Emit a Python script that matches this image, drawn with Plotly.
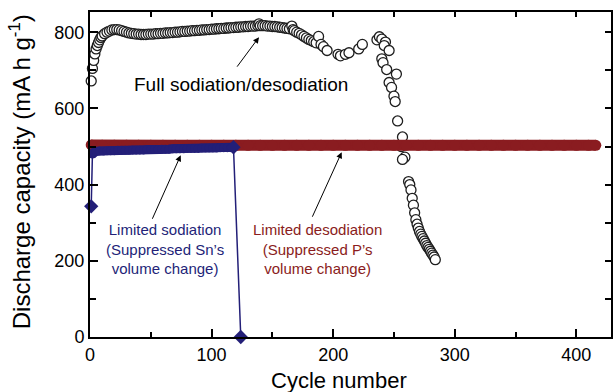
import plotly.graph_objects as go

# ---- data ----
full_cycles = [1, 2, 3, 4, 5, 6, 7, 8, 9, 10, 12, 14, 16, 18, 20, 22, 24, 26, 28, 30,
               32, 34, 36, 38, 40, 42, 44, 46, 48, 50, 52, 54, 56, 58, 60, 62, 64, 66, 68, 70,
               72, 74, 76, 78, 80, 82, 84, 86, 88, 90, 92, 94, 96, 98, 100, 102, 104, 106, 108, 110,
               112, 114, 116, 118, 120, 122, 124, 126, 128, 130, 132, 134, 136, 138, 139, 140, 142, 144, 146, 148,
               150, 152, 154, 156, 158, 160, 162, 164, 166, 167, 168, 170, 172, 174, 176, 178, 180, 182, 184, 186,
               188, 190, 192, 195, 204, 206, 210, 213, 221, 224, 236, 238, 240, 243, 242, 246, 240, 241, 244, 252,
               246, 248, 250, 251, 253, 257, 256, 259, 257, 262, 263, 264, 265, 266, 267, 268, 269, 270, 271, 272,
               273, 274, 275, 276, 277, 278, 279, 280, 281, 282, 283, 284]
full_capacity = [672, 705, 726, 743, 756, 765, 773, 780, 786, 790, 796, 800, 803, 806, 807, 807, 806, 804, 802, 800,
                 798, 797, 796, 795, 795, 794, 794, 794, 795, 795, 795, 796, 796, 797, 797, 798, 798, 799, 799, 800,
                 800, 801, 802, 802, 803, 803, 804, 804, 805, 805, 806, 806, 807, 807, 808, 808, 809, 809, 810, 810,
                 811, 811, 812, 812, 813, 813, 814, 814, 815, 815, 816, 816, 816, 817, 822, 817, 817, 817, 816, 816,
                 815, 815, 814, 813, 812, 811, 810, 809, 816, 807, 804, 800, 797, 793, 789, 785, 781, 778, 775, 772,
                 789, 768, 762, 752, 742, 738, 742, 746, 756, 768, 780, 788, 782, 774, 765, 752, 730, 720, 702, 690,
                 668, 655, 632, 618, 567, 525, 500, 472, 466, 408, 400, 386, 364, 346, 326, 308, 296, 286, 277, 270,
                 264, 258, 252, 246, 240, 235, 230, 225, 220, 215, 210, 203]

desod_cycles = [1, 10, 20, 30, 40, 50, 60, 70, 80, 90, 100, 110, 120, 130, 140, 150, 160, 170, 180, 190,
                200, 210, 220, 230, 240, 250, 260, 270, 280, 290, 300, 310, 320, 330, 340, 350, 360, 370, 380, 390,
                400, 410, 416]
desod_capacity = [504, 503, 503, 503, 503, 503, 503, 503, 503, 503, 503, 503, 503, 503, 503, 503, 503, 503, 503, 503,
                  503, 503, 503, 503, 503, 503, 503, 503, 503, 503, 503, 503, 503, 503, 503, 503, 503, 503, 503, 503,
                  503, 503, 503]

sod_cycles = [1, 2, 3, 5, 8, 11, 14, 17, 20, 23, 26, 29, 32, 35, 38, 41, 44, 47, 50, 53,
              56, 59, 62, 65, 68, 71, 74, 77, 80, 83, 86, 89, 92, 95, 98, 101, 104, 107, 110, 113,
              116, 118, 124]
sod_capacity = [343, 480, 485, 487, 488, 488, 489, 489, 489, 490, 490, 490, 490, 491, 491, 491, 491, 492, 492, 492,
                492, 493, 493, 493, 494, 494, 494, 494, 495, 495, 495, 495, 496, 496, 496, 496, 496, 497, 497, 497,
                497, 498, 0]

x_ticks = [0, 100, 200, 300, 400]
y_ticks = [0, 200, 400, 600, 800]

NAVY = "#231f78"
DRED = "#8a1c20"
FONT = "Liberation Sans, Arial, sans-serif"

fig = go.Figure()

fig.add_trace(go.Scatter(
    x=full_cycles, y=full_capacity, mode="markers", cliponaxis=False,
    marker=dict(symbol="circle", size=10, color="white", opacity=1,
                line=dict(color="#1e1e1e", width=1.3)),
    showlegend=False))

fig.add_trace(go.Scatter(
    x=desod_cycles, y=desod_capacity, mode="lines+markers", cliponaxis=False,
    line=dict(color=DRED, width=11),
    marker=dict(symbol="circle", size=11, color=DRED, opacity=1, line=dict(width=0)),
    showlegend=False))

# Limited sodiation: thin connecting line through all points
fig.add_trace(go.Scatter(
    x=sod_cycles, y=sod_capacity, mode="lines", cliponaxis=False,
    line=dict(color=NAVY, width=1.5), showlegend=False))
# the plateau band (same data, cycles 2..118)
fig.add_trace(go.Scatter(
    x=sod_cycles[1:-1], y=sod_capacity[1:-1], mode="lines+markers", cliponaxis=False,
    line=dict(color=NAVY, width=9),
    marker=dict(symbol="circle", size=9, color=NAVY, opacity=1, line=dict(width=0)),
    showlegend=False))
# diamond end markers
end_idx = [0, len(sod_cycles) - 2, len(sod_cycles) - 1]
fig.add_trace(go.Scatter(
    x=[sod_cycles[i] for i in end_idx], y=[sod_capacity[i] for i in end_idx], mode="markers", cliponaxis=False,
    marker=dict(symbol="diamond", size=11, color=NAVY, opacity=1, line=dict(width=0)),
    showlegend=False))

# invisible trace to anchor the mirrored tick axes
fig.add_trace(go.Scatter(x=[None], y=[None], xaxis="x2", yaxis="y2", showlegend=False, hoverinfo="skip"))

XR = [0, 428.5]
YR = [0, 853]

fig.update_layout(
    width=614, height=392,
    margin=dict(l=90, r=1, t=12, b=55),
    paper_bgcolor="white", plot_bgcolor="white",
    font=dict(family=FONT, color="black"),
    xaxis=dict(range=XR, tickvals=x_ticks, ticks="inside", ticklen=8, tickwidth=2, tickcolor="black",
               showline=True, linewidth=2, linecolor="black", mirror=True, showgrid=False, zeroline=False,
               tickfont=dict(size=18, family=FONT),
               minor=dict(dtick=50, tick0=0, ticks="inside", ticklen=5, tickwidth=2, tickcolor="black", showgrid=False)),
    yaxis=dict(range=YR, tickvals=y_ticks, ticks="inside", ticklen=8, tickwidth=2, tickcolor="black",
               showline=True, linewidth=2, linecolor="black", mirror=True, showgrid=False, zeroline=False,
               tickfont=dict(size=18, family=FONT),
               minor=dict(dtick=100, tick0=0, ticks="inside", ticklen=6, tickwidth=2, tickcolor="black", showgrid=False)),
    xaxis2=dict(range=XR, overlaying="x", side="top", anchor="y2", dtick=50, tick0=0, ticks="inside", ticklen=5,
                tickwidth=2, tickcolor="black", showticklabels=False, showgrid=False, zeroline=False, showline=False),
    yaxis2=dict(range=YR, overlaying="y", side="right", anchor="x2", dtick=100, tick0=0, ticks="inside", ticklen=6,
                tickwidth=2, tickcolor="black", showticklabels=False, showgrid=False, zeroline=False, showline=False),
)

# axis titles
fig.add_annotation(xref="paper", yref="paper", x=(340 - 90) / 523, y=(337 - 380) / 325,
                   text="Cycle number", showarrow=False, xanchor="center", yanchor="middle",
                   font=dict(size=22, family=FONT, color="black"))
fig.add_annotation(xref="paper", yref="paper", x=(20 - 90) / 523, y=(337 - 172) / 325,
                   text="Discharge capacity (mA h g<sup>-1</sup>)", showarrow=False, textangle=-90,
                   xanchor="center", yanchor="middle",
                   font=dict(size=24, family=FONT, color="black"))

# text labels
fig.add_annotation(x=124, y=662, text="Full sodiation/desodiation", showarrow=False,
                   font=dict(size=19, color="black", family=FONT))
fig.add_annotation(x=62, y=230, text="Limited sodiation<br>(Suppressed Sn’s<br>volume change)", showarrow=False,
                   align="center", font=dict(size=15, color=NAVY, family=FONT))
fig.add_annotation(x=187, y=230, text="Limited desodiation<br>(Suppressed P’s<br>volume change)", showarrow=False,
                   align="center", font=dict(size=15, color=DRED, family=FONT))

# arrows
for hx, hy, ax, ay in [(139, 787, -23, 31), (74.6, 477, -29, 65), (207, 485, -30, 66)]:
    fig.add_annotation(x=hx, y=hy, ax=ax, ay=ay, text="", showarrow=True, arrowhead=2,
                       arrowsize=1.2, arrowwidth=1, arrowcolor="black", standoff=0)

fig.write_html("out.html")
